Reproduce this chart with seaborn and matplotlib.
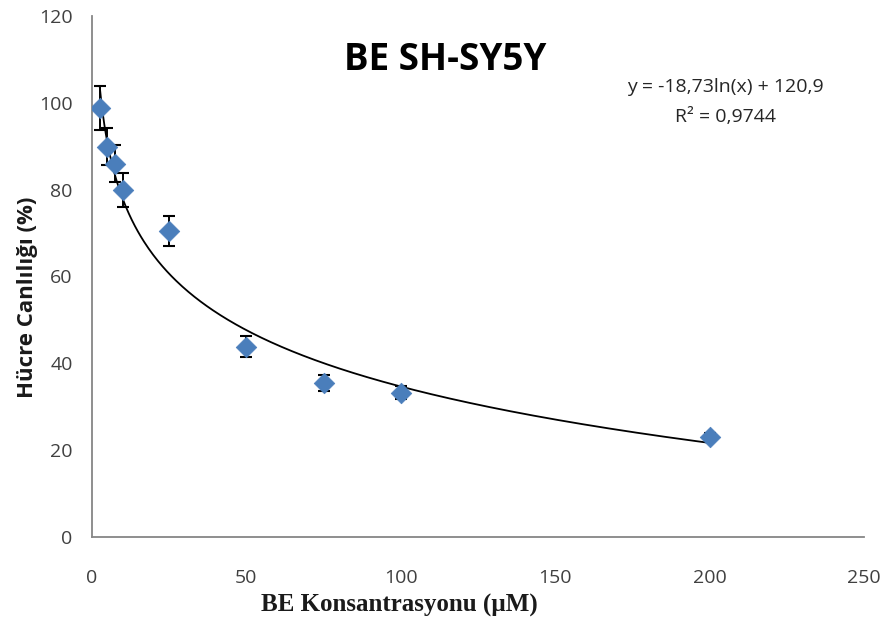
import numpy as np
import pandas as pd
import matplotlib
matplotlib.use("Agg")
import matplotlib.pyplot as plt
import seaborn as sns

# ---- data ----
concentration = [2.5, 5, 7.5, 10, 25, 50, 75, 100, 200]
viability = [98.8, 89.9, 86.0, 80.0, 70.4, 43.8, 35.5, 33.2, 23.0]
error = [5.0, 4.2, 4.2, 3.9, 3.4, 2.4, 1.9, 1.5, 1.0]
fit_slope = -18.73
fit_intercept = 120.9
x_ticks = [0, 50, 100, 150, 200, 250]
y_ticks = [0, 20, 40, 60, 80, 100, 120]
title = "BE SH-SY5Y"
eq_line1 = "y = -18,73ln(x) + 120,9"
eq_line2 = "R² = 0,9744"
xlabel = "BE Konsantrasyonu (µM)"
ylabel = "Hücre Canlılığı (%)"

df = pd.DataFrame({"x": concentration, "y": viability, "err": error})

sns.set_theme(style="white")
plt.rcParams['font.family'] = ['Open Sans', 'DejaVu Sans']

fig = plt.figure(figsize=(8.88, 6.34), dpi=100)
ax = fig.add_axes([0.1036, 0.153, 0.8694, 0.822])

# trendline from the fitted logarithmic equation
xs = np.linspace(min(concentration), max(concentration), 400)
trend = pd.DataFrame({"x": xs, "y": fit_slope * np.log(xs) + fit_intercept})
sns.lineplot(data=trend, x="x", y="y", ax=ax, color="black", lw=1.3, zorder=2)

ax.errorbar(df["x"], df["y"], yerr=df["err"], fmt="none", ecolor="black",
            elinewidth=1.4, capsize=4.5, capthick=1.5, zorder=3)
sns.scatterplot(data=df, x="x", y="y", ax=ax, marker="D", s=110,
                color="#4a7ebb", edgecolor="#4a7ebb", linewidth=0.5, zorder=4)

ax.set_xlim(0, 250)
ax.set_ylim(0, 120)
ax.set_xticks(x_ticks)
ax.set_yticks(y_ticks)
for s in ["top", "right"]:
    ax.spines[s].set_visible(False)
for s in ["left", "bottom"]:
    ax.spines[s].set_color("#868686")
    ax.spines[s].set_linewidth(1.3)
ax.tick_params(axis="both", which="both", direction="out", length=6, width=1.2,
               color="#868686", labelcolor="#404040", labelsize=14, pad=8)
ax.tick_params(axis="x", pad=17)

ax.set_xlabel(xlabel, family=["Liberation Serif", "DejaVu Serif"], fontweight="bold",
              fontsize=18, color="#1a1a1a")
ax.xaxis.label.set_va("center")
ax.xaxis.set_label_coords(0.398, -0.1305)
ax.set_ylabel(ylabel, fontweight="bold", fontsize=16, color="#1a1a1a")
ax.yaxis.label.set_va("center")
ax.yaxis.set_label_coords(-0.084, 0.46)

ax.text(0.457, 0.915, title, transform=ax.transAxes, ha="center", va="center",
        fontsize=26.5, fontweight="bold", color="black")
ax.text(0.82, 0.864, eq_line1, transform=ax.transAxes, ha="center", va="center",
        fontsize=14, color="#262626")
ax.text(0.82, 0.806, eq_line2, transform=ax.transAxes, ha="center", va="center",
        fontsize=14, color="#262626")

fig.savefig("out.png", dpi=100)
